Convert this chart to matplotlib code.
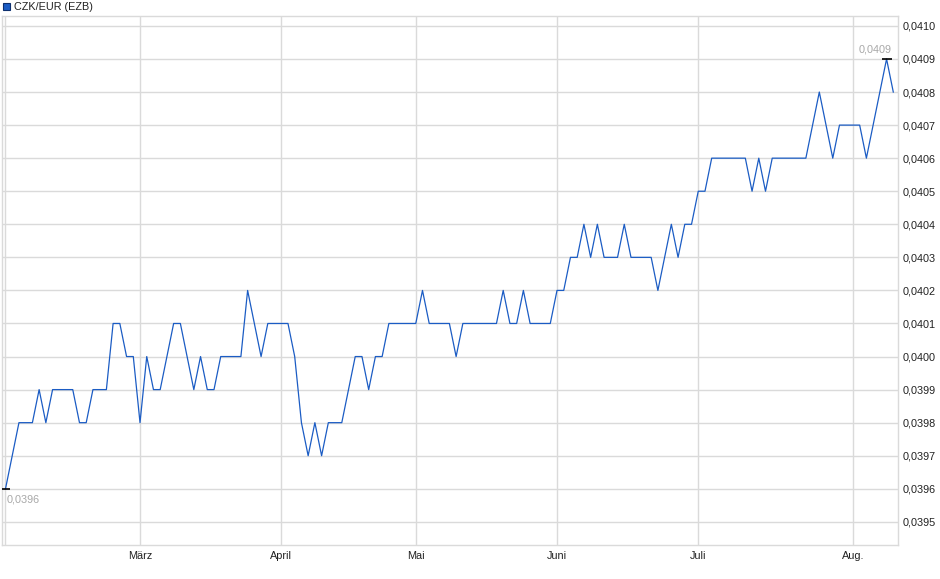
import matplotlib
matplotlib.use("Agg")
import matplotlib.pyplot as plt
import numpy as np
import pandas as pd
from matplotlib.patches import Rectangle

plt.rcParams["font.family"] = ["Liberation Sans", "DejaVu Sans"]

# ECB reference rate CZK/EUR, one value per ECB business day (Feb 3 - Aug 11, 2025)
start_date = "2025-02-03"
end_date = "2025-08-11"
ecb_holidays = ["2025-04-18", "2025-04-21", "2025-05-01"]
rate = [
    0.0396, 0.0397, 0.0398, 0.0398, 0.0398, 0.0399, 0.0398, 0.0399, 0.0399, 0.0399,
    0.0399, 0.0398, 0.0398, 0.0399, 0.0399, 0.0399, 0.0401, 0.0401, 0.0400, 0.0400,
    0.0398, 0.0400, 0.0399, 0.0399, 0.0400, 0.0401, 0.0401, 0.0400, 0.0399, 0.0400,
    0.0399, 0.0399, 0.0400, 0.0400, 0.0400, 0.0400, 0.0402, 0.0401, 0.0400, 0.0401,
    0.0401, 0.0401, 0.0401, 0.0400, 0.0398, 0.0397, 0.0398, 0.0397, 0.0398, 0.0398,
    0.0398, 0.0399, 0.0400, 0.0400, 0.0399, 0.0400, 0.0400, 0.0401, 0.0401, 0.0401,
    0.0401, 0.0401, 0.0402, 0.0401, 0.0401, 0.0401, 0.0401, 0.0400, 0.0401, 0.0401,
    0.0401, 0.0401, 0.0401, 0.0401, 0.0402, 0.0401, 0.0401, 0.0402, 0.0401, 0.0401,
    0.0401, 0.0401, 0.0402, 0.0402, 0.0403, 0.0403, 0.0404, 0.0403, 0.0404, 0.0403,
    0.0403, 0.0403, 0.0404, 0.0403, 0.0403, 0.0403, 0.0403, 0.0402, 0.0403, 0.0404,
    0.0403, 0.0404, 0.0404, 0.0405, 0.0405, 0.0406, 0.0406, 0.0406, 0.0406, 0.0406,
    0.0406, 0.0405, 0.0406, 0.0405, 0.0406, 0.0406, 0.0406, 0.0406, 0.0406, 0.0406,
    0.0407, 0.0408, 0.0407, 0.0406, 0.0407, 0.0407, 0.0407, 0.0407, 0.0406, 0.0407,
    0.0408, 0.0409, 0.0408,
]
month_labels = ["", "März", "April", "Mai", "Juni", "Juli", "Aug."]
y_ticks = [0.0395, 0.0396, 0.0397, 0.0398, 0.0399, 0.0400, 0.0401, 0.0402,
           0.0403, 0.0404, 0.0405, 0.0406, 0.0407, 0.0408, 0.0409, 0.0410]

LINE = "#1b5cc4"
GRID = "#dadada"
W, H = 940, 579


def fmt(v):
    return f"{v:.4f}".replace(".", ",")


dates = pd.bdate_range(start_date, end_date, freq="C", holidays=ecb_holidays)
values = np.array(rate)
x = np.arange(len(values))

# first business day of every month -> gridline / label position
month_start = [i for i in x if i == 0 or dates[i].month != dates[i - 1].month]

fig = plt.figure(figsize=(W / 100, H / 100), dpi=100)
ax = fig.add_axes([2 / W, (H - 545) / H, 896 / W, 529 / H])

ax.plot(x, values, color=LINE, linewidth=0.9, zorder=3)

ax.set_xlim(-0.52, 132.7)
ax.set_ylim(0.03943, 0.04103)

ax.set_xticks(month_start)
ax.set_xticklabels(month_labels[: len(month_start)])
ax.set_yticks(y_ticks)
ax.set_yticklabels([fmt(v) for v in y_ticks])
ax.yaxis.tick_right()
ax.tick_params(axis="both", length=0, labelsize=7.8, colors="#222222")
ax.tick_params(axis="y", pad=3)
ax.tick_params(axis="x", pad=4)
ax.grid(True, color=GRID, linewidth=1)
ax.set_axisbelow(True)
for s in ax.spines.values():
    s.set_color(GRID)
    s.set_linewidth(1)

# low / high markers
i_lo = int(np.argmin(values))
i_hi = int(np.argmax(values))
for i in (i_lo, i_hi):
    ax.plot(x[i], values[i], marker="_", color="black", markersize=7,
            markeredgewidth=1.2, zorder=4)
ax.annotate(fmt(values[i_lo]), xy=(x[i_lo], values[i_lo]), xytext=(1.5, -11),
            textcoords="offset pixels", ha="left", va="center",
            fontsize=7.8, color="#a8a8a8")
ax.annotate(fmt(values[i_hi]), xy=(x[i_hi], values[i_hi]), xytext=(5, 9),
            textcoords="offset pixels", ha="right", va="center",
            fontsize=7.8, color="#a8a8a8")

# legend
fig.patches.append(Rectangle((3 / W, 1 - 9.5 / H), 6.5 / W, 6.5 / H,
                             transform=fig.transFigure, facecolor=LINE,
                             edgecolor="#0d2f6e", linewidth=0.8))
fig.text(14 / W, 1 - 6.5 / H, "CZK/EUR (EZB)", ha="left", va="center",
         fontsize=7.8, color="#222222")

fig.savefig("out.png", dpi=100)
